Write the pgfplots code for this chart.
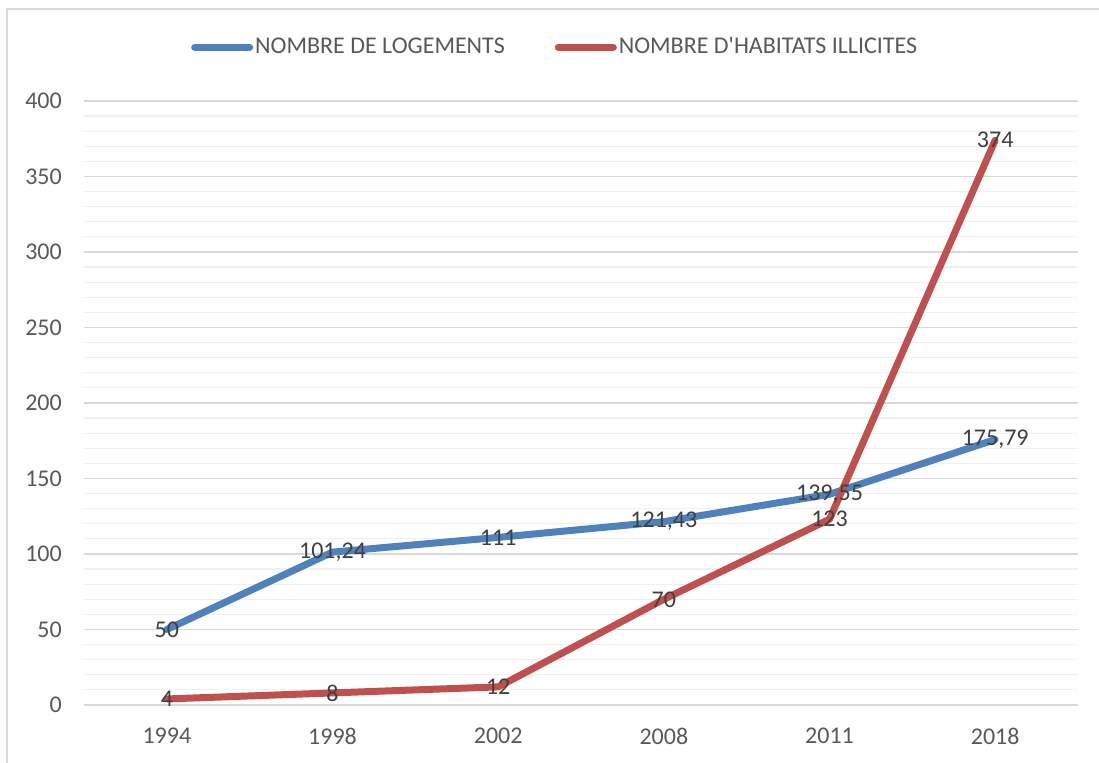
\documentclass[border=0pt]{standalone}
\usepackage{pgfplots}
\pgfplotsset{compat=1.18}
\usepackage{fontspec}
\setmainfont{Carlito}[Ligatures=TeXOff]
\definecolor{cblue}{HTML}{4F81BD}
\definecolor{cred}{HTML}{C0504D}
\definecolor{tgray}{HTML}{595959}
\definecolor{lgray}{HTML}{404040}
\definecolor{gmaj}{HTML}{D9D9D9}
\definecolor{gmin}{HTML}{F0F0F0}
\begin{document}
\fontsize{24bp}{28bp}\selectfont
\begin{tikzpicture}
\useasboundingbox (-84bp,-58bp) rectangle (1015bp,705bp);
\draw[gmaj, line width=1.5bp] (-77bp,-80bp) rectangle (1040bp,696bp);
\begin{axis}[
  at={(0,0)}, anchor=south west,
  scale only axis, width=994bp, height=604bp,
  xmin=-0.5, xmax=5.5, ymin=0, ymax=400,
  xtick={0,1,2,3,4,5},
  xticklabels={1994,1998,2002,2008,2011,2018},
  ytick={0,50,...,400},
  minor y tick num=4,
  ymajorgrids, yminorgrids,
  major grid style={gmaj, line width=1.2bp},
  minor grid style={gmin, line width=1.2bp},
  axis line style={draw=none},
  major tick length=0pt, minor tick length=0pt,
  tick label style={font=\fontsize{24bp}{28bp}\selectfont, text=tgray},
  yticklabel style={xshift=-14bp},
  xticklabel style={yshift=-15bp},
  /pgf/number format/assume math mode=true,
  /pgf/number format/use comma,
  /pgf/number format/1000 sep={},
  nodes near coords,
  nodes near coords style={anchor=center, font=\fontsize{24bp}{28bp}\selectfont, text=lgray, /pgf/number format/assume math mode=true, /pgf/number format/use comma, /pgf/number format/1000 sep={}},
  legend columns=2,
  legend style={at={(0.474,1.089)}, anchor=center, draw=none, fill=none,
    font=\fontsize{24bp}{28bp}\selectfont, text=tgray,
    /tikz/every even column/.append style={column sep=48bp},
    inner sep=0pt},
  legend image code/.code={\draw[#1, line cap=round] (0bp,0bp) -- (55bp,0bp);},
  clip=false,
]
\addplot[cblue, line width=7bp, line cap=round, line join=round] coordinates {
  (0,50) (1,101.24) (2,111) (3,121.43) (4,139.55) (5,175.79)};
\addlegendentry{NOMBRE DE LOGEMENTS}
\addplot[cred, line width=7bp, line cap=round, line join=round] coordinates {
  (0,4) (1,8) (2,12) (3,70) (4,123) (5,374)};
\addlegendentry{NOMBRE D'HABITATS ILLICITES}
\end{axis}
\end{tikzpicture}
\end{document}
